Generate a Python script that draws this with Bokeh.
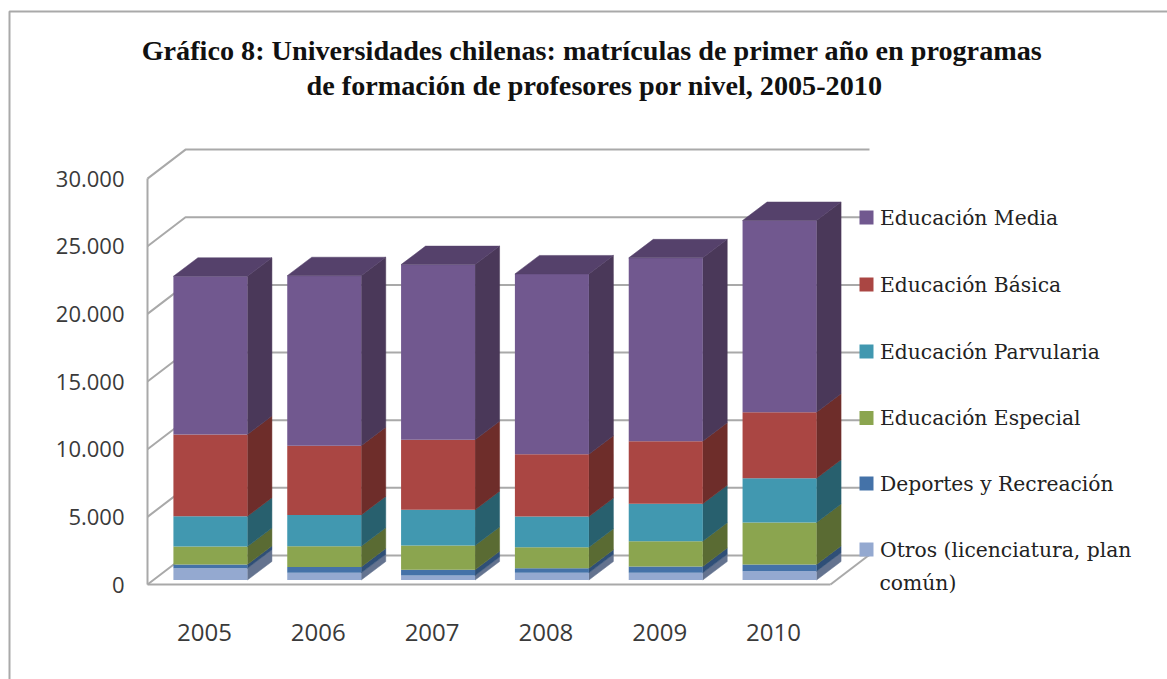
from bokeh.plotting import figure
from bokeh.embed import file_html
from bokeh.resources import INLINE
from bokeh.core.properties import value
from bokeh.models import ColumnDataSource, FixedTicker

years = [2005, 2006, 2007, 2008, 2009, 2010]
otros = [870, 530, 330, 530, 530, 650]
deportes = [270, 440, 420, 340, 470, 500]
especial = [1330, 1520, 1800, 1550, 1870, 3100]
parvularia = [2240, 2320, 2640, 2270, 2760, 3270]
basica = [6040, 5120, 5170, 4600, 4630, 4880]
media = [11700, 12560, 12950, 13330, 13550, 14170]

series_labels = ["Otros (licenciatura, plan", "Deportes y Recreación", "Educación Especial",
                 "Educación Parvularia", "Educación Básica", "Educación Media"]
series_values = [otros, deportes, especial, parvularia, basica, media]
front_colors = ["#94A9D0", "#4472A8", "#8BA54F", "#4198B0", "#AA4643", "#71588F"]
side_colors = ["#64738F", "#2F4F77", "#5A6B33", "#28606E", "#6E2D2A", "#4A3859"]
top_color = "#55416B"

y_ticks = [0, 5000, 10000, 15000, 20000, 25000, 30000]
y_tick_labels = ["0", "5.000", "10.000", "15.000", "20.000", "25.000", "30.000"]
title_lines = ["Gráfico 8: Universidades chilenas:  matrículas de primer año en programas",
               "de formación de profesores por nivel, 2005-2010"]

# scales: pixels of the reference
W, H = 1167, 679
PX_X = 113.83          # px per year
PX_Y = 0.01353         # px per enrolment
X0_IMG, Y0_IMG = 147, 584
x_start = years[0] - 0.5


def data_x(img_x):
    return x_start + (img_x - X0_IMG) / PX_X


def data_y(img_y):
    return (Y0_IMG - img_y) / PX_Y


GRID = "#A9A9A9"
wall_dx, wall_dy = 38 / PX_X, 29 / PX_Y
back_end = data_x(869)
bar_width = 74 / PX_X
bar_shift_x, bar_shift_y = 6 / PX_X, 4.5 / PX_Y
depth_x, depth_y = 24.5 / PX_X, 18.5 / PX_Y

p = figure(width=W, height=H, output_backend="svg", toolbar_location=None,
           x_range=(data_x(0), data_x(W)), y_range=(data_y(H), data_y(0)),
           min_border=0)
p.outline_line_color = None
p.grid.visible = False

# axes
ax = p.xaxis[0]
ax.fixed_location = 0
ax.ticker = FixedTicker(ticks=years)
ax.major_label_overrides = {y: str(y) for y in years}
ax.bounds = (x_start, x_start + 6)
ax.axis_line_color = GRID
ax.axis_line_width = 2
ax.major_tick_line_color = None
ax.minor_tick_line_color = None
ax.major_label_standoff = 33
ax.major_label_text_font = "Open Sans"
ax.major_label_text_font_size = "24px"
ax.major_label_text_color = "#3A3A3A"

ay = p.yaxis[0]
ay.fixed_location = x_start
ay.ticker = FixedTicker(ticks=y_ticks)
ay.major_label_overrides = dict(zip(y_ticks, y_tick_labels))
ay.bounds = (0, y_ticks[-1])
ay.axis_line_color = GRID
ay.axis_line_width = 2
ay.major_tick_line_color = None
ay.minor_tick_line_color = None
ay.major_label_standoff = 17
ay.major_label_text_font = "Open Sans"
ay.major_label_text_font_size = "22px"
ay.major_label_text_color = "#3A3A3A"

# walls: depth lines and back grid lines
p.multi_line(xs=[[x_start, x_start + wall_dx, back_end] for t in y_ticks],
             ys=[[t, t + wall_dy, t + wall_dy] for t in y_ticks],
             line_color=GRID, line_width=2)
p.line(x=[x_start + 6, x_start + 6 + wall_dx], y=[0, wall_dy], line_color=GRID, line_width=2)

# bars
bottoms = [bar_shift_y] * len(years)
for vals, fc, sc in zip(series_values, front_colors, side_colors):
    tops = [b + v for b, v in zip(bottoms, vals)]
    xc = [y + bar_shift_x for y in years]
    right = [x + bar_width / 2 for x in xc]
    p.patches(xs=[[r, r + depth_x, r + depth_x, r] for r in right],
              ys=[[b, b + depth_y, t + depth_y, t] for b, t in zip(bottoms, tops)],
              fill_color=sc, line_color=sc, line_width=0.5)
    p.vbar(x=xc, width=bar_width, bottom=bottoms, top=tops, fill_color=fc, line_color=None)
    bottoms = tops

left = [y + bar_shift_x - bar_width / 2 for y in years]
p.patches(xs=[[l, l + bar_width, l + bar_width + depth_x, l + depth_x] for l in left],
          ys=[[t, t, t + depth_y, t + depth_y] for t in bottoms],
          fill_color=top_color, line_color=top_color, line_width=0.5)

# legend
rows = [549, 483, 417.5, 351, 284, 217]
src = ColumnDataSource(dict(x=[data_x(866)] * 6, tx=[data_x(879.5)] * 6,
                            y=[data_y(r) for r in rows], c=front_colors, t=series_labels))
p.scatter(x="x", y="y", source=src, marker="square", size=14, fill_color="c", line_color=None)
p.text(x="tx", y="y", text="t", source=src, text_font=value("DejaVu Serif"),
       text_font_size="20.3px", text_baseline="middle", text_color="#222222")
p.text(x=[data_x(879)], y=[data_y(582)], text=["común)"], text_font=value("DejaVu Serif"),
       text_font_size="20.3px", text_baseline="middle", text_color="#222222")

# title
p.text(x=[data_x(595), data_x(594)], y=[data_y(50), data_y(85)], text=title_lines,
       text_font=value("Liberation Serif"), text_font_size="28.2px", text_font_style="bold",
       text_align="center", text_baseline="middle", text_color="#111111")

# chart border
p.line(x=[data_x(9), data_x(9), data_x(W)], y=[data_y(H), data_y(11), data_y(11)],
       line_color=GRID, line_width=2)

open("out.html", "w").write(file_html(p, INLINE))
